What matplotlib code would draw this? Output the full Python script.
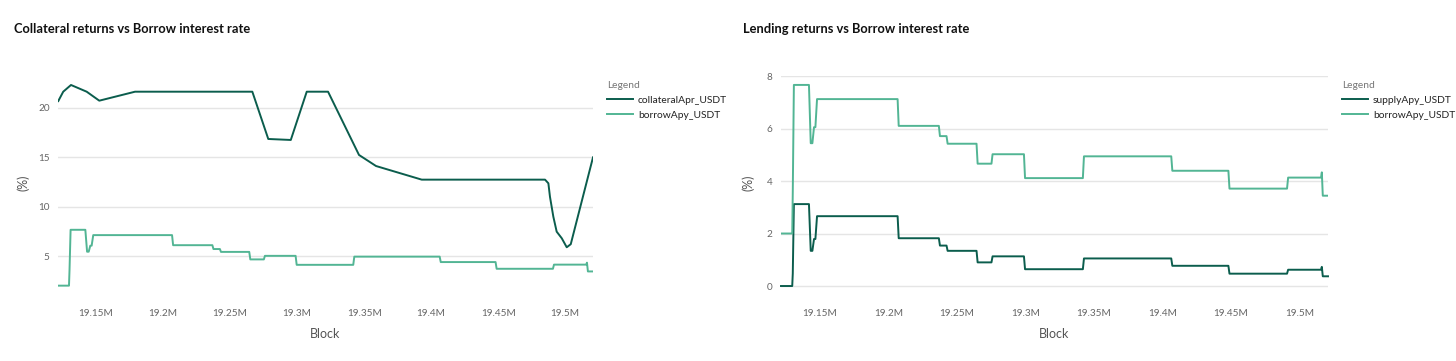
import matplotlib.pyplot as plt
from matplotlib.ticker import FuncFormatter

# block numbers in millions
coll_block = [19.1218, 19.1255, 19.1313, 19.1430, 19.1524, 19.1791, 19.2666, 19.2785,
              19.2953, 19.3072, 19.3231, 19.3462, 19.3589, 19.3930, 19.4850, 19.4875,
              19.4887, 19.4912, 19.4937, 19.4975, 19.5012, 19.5042, 19.5208]
coll_apr = [20.7, 21.65, 22.33, 21.65, 20.74, 21.65, 21.65, 16.86,
            16.76, 21.65, 21.65, 15.24, 14.12, 12.74, 12.74, 12.37,
            11.0, 8.99, 7.47, 6.8, 5.89, 6.2, 15.0]

rate_block = [19.1216, 19.1298, 19.1302, 19.1310, 19.1420, 19.1433, 19.1445, 19.1457,
              19.1467, 19.1479, 19.2067, 19.2075, 19.2368, 19.2376, 19.2424, 19.2432,
              19.2643, 19.2651, 19.2752, 19.2760, 19.2989, 19.2997, 19.3419, 19.3427,
              19.4064, 19.4072, 19.4481, 19.4489, 19.4909, 19.4917, 19.5157, 19.5163,
              19.5170, 19.5208]
borrow_apy = [2.00, 2.00, 3.6, 7.66, 7.66, 5.44, 5.44, 6.05,
              6.05, 7.12, 7.12, 6.10, 6.10, 5.71, 5.71, 5.42,
              5.42, 4.66, 4.66, 5.02, 5.02, 4.11, 4.11, 4.94,
              4.94, 4.39, 4.39, 3.71, 3.71, 4.13, 4.13, 4.33,
              3.44, 3.44]
supply_apy = [0, 0, 0.48, 3.12, 3.12, 1.34, 1.34, 1.79,
              1.79, 2.66, 2.66, 1.82, 1.82, 1.54, 1.54, 1.34,
              1.34, 0.90, 0.90, 1.13, 1.13, 0.64, 0.64, 1.05,
              1.05, 0.77, 0.77, 0.47, 0.47, 0.62, 0.62, 0.73,
              0.37, 0.37]

x_ticks = [19.15, 19.2, 19.25, 19.3, 19.35, 19.4, 19.45, 19.5]

DARK = '#0b5d4d'
LIGHT = '#52b594'
GRID = '#e5e5e5'
TICK = '#666666'

plt.rcParams['font.family'] = ['Lato', 'DejaVu Sans']

W, H = 1456, 361
fig = plt.figure(figsize=(W / 100, H / 100), dpi=100)


def px_axes(x0, x1, y0, y1):
    return fig.add_axes([x0 / W, 1 - y1 / H, (x1 - x0) / W, (y1 - y0) / H])


def style(ax, yticks, ylim):
    ax.set_xlim(19.1216, 19.5208)
    ax.set_ylim(*ylim)
    ax.set_xticks(x_ticks)
    ax.set_yticks(yticks)
    ax.xaxis.set_major_formatter(FuncFormatter(lambda v, p: f"{v:g}M"))
    for s in ax.spines.values():
        s.set_visible(False)
    ax.tick_params(length=0, labelsize=7.2, labelcolor=TICK, pad=6)
    ax.tick_params(axis='x', pad=14)
    ax.grid(axis='y', color=GRID, linewidth=1)
    ax.set_axisbelow(True)
    ax.set_xlabel('Block', fontsize=9, color='#555555', labelpad=7)
    ax.set_ylabel('(%)', fontsize=9, color='#555555', labelpad=6)


# left chart
ax1 = px_axes(58, 593, 76, 290)
ax1.plot(coll_block, coll_apr, color=DARK, lw=1.4, label='collateralApr_USDT')
ax1.plot(rate_block, borrow_apy, color=LIGHT, lw=1.4, label='borrowApy_USDT')
style(ax1, [5, 10, 15, 20], (1.56, 23.24))

# right chart
ax2 = px_axes(781, 1328, 76, 290)
ax2.plot(rate_block, supply_apy, color=DARK, lw=1.4, label='supplyApy_USDT', clip_on=False)
ax2.plot(rate_block, borrow_apy, color=LIGHT, lw=1.4, label='borrowApy_USDT')
style(ax2, [0, 2, 4, 6, 8], (-0.152, 8))
ax2.yaxis.labelpad = 9

fig.text(14 / W, 1 - 29 / H, 'Collateral returns vs Borrow interest rate',
         fontsize=9.3, fontweight='bold', va='center', color='#111111')
fig.text(743 / W, 1 - 29 / H, 'Lending returns vs Borrow interest rate',
         fontsize=9.3, fontweight='bold', va='center', color='#111111')

for ax, x in [(ax1, 603), (ax2, 1338)]:
    leg = ax.legend(loc='upper left', bbox_to_anchor=(x / W, 1 - 77 / H),
                    bbox_transform=fig.transFigure, frameon=False, title='Legend',
                    fontsize=7.4, title_fontsize=7.4, handlelength=2.5,
                    handletextpad=0.5, labelspacing=0.55, alignment='left',
                    borderaxespad=0)
    leg.get_title().set_color('#777777')
    for t in leg.get_texts():
        t.set_color('#222222')

fig.savefig('out.png', dpi=100)
